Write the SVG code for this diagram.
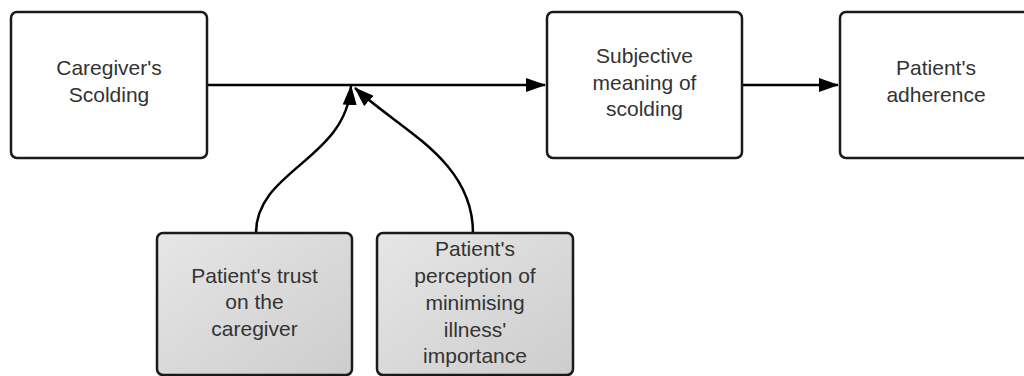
<svg xmlns="http://www.w3.org/2000/svg" width="1024" height="376" viewBox="0 0 1024 376">
<defs>
<linearGradient id="g" x1="0" y1="0" x2="1" y2="1">
<stop offset="0" stop-color="#e6e6e6"/>
<stop offset="1" stop-color="#cdcdcd"/>
</linearGradient>
<marker id="ah" markerWidth="10" markerHeight="10" refX="9" refY="5" orient="auto" markerUnits="userSpaceOnUse" viewBox="0 0 10 10">
<path d="M0,0 L10,5 L0,10 z" fill="#000"/>
</marker>
<marker id="ahL" markerWidth="20" markerHeight="14" refX="19" refY="7" orient="auto" markerUnits="userSpaceOnUse" viewBox="0 0 20 14">
<path d="M0,0 L20,7 L0,14 z" fill="#000"/>
</marker>
</defs>
<style>
.box{fill:#fff;stroke:#1a1a1a;stroke-width:2.5}
.gbox{fill:url(#g);stroke:#1a1a1a;stroke-width:2.5}
text{font-family:"Liberation Sans",Arial,sans-serif;font-size:21px;fill:#333;text-anchor:middle}
.c{fill:none;stroke:#000;stroke-width:2.5}
</style>
<rect width="1024" height="376" fill="#fff"/>
<g id="connectors">
<path class="c" d="M208,85 L545,85" marker-end="url(#ahL)"/>
<path class="c" d="M743,85 L838,85" marker-end="url(#ahL)"/>
<path class="c" d="M256,233 C256,170 346,160 351,86" marker-end="url(#ahL)"/>
<path class="c" d="M473,233 C473,160 400,130 355,88" marker-end="url(#ahL)"/>
</g>
<g id="caregivers-scolding">
<rect class="box" x="11" y="12" width="196" height="146" rx="6"/>
<text x="109" y="75">Caregiver's</text>
<text x="109" y="102">Scolding</text>
</g>
<g id="subjective-meaning">
<rect class="box" x="547" y="12" width="195" height="146" rx="6"/>
<text x="644.5" y="63">Subjective</text>
<text x="644.5" y="90">meaning of</text>
<text x="644.5" y="116">scolding</text>
</g>
<g id="patients-adherence">
<rect class="box" x="840" y="12" width="194" height="146" rx="6"/>
<text x="936" y="75">Patient's</text>
<text x="936" y="102">adherence</text>
</g>
<g id="patients-trust">
<rect class="gbox" x="157" y="233" width="195" height="142" rx="6"/>
<text x="254.5" y="283">Patient's trust</text>
<text x="254.5" y="309">on the</text>
<text x="254.5" y="336">caregiver</text>
</g>
<g id="patients-perception">
<rect class="gbox" x="377" y="233" width="196" height="142" rx="6"/>
<text x="475" y="256">Patient's</text>
<text x="475" y="283">perception of</text>
<text x="475" y="310">minimising</text>
<text x="475" y="337">illness'</text>
<text x="475" y="363">importance</text>
</g>
</svg>
